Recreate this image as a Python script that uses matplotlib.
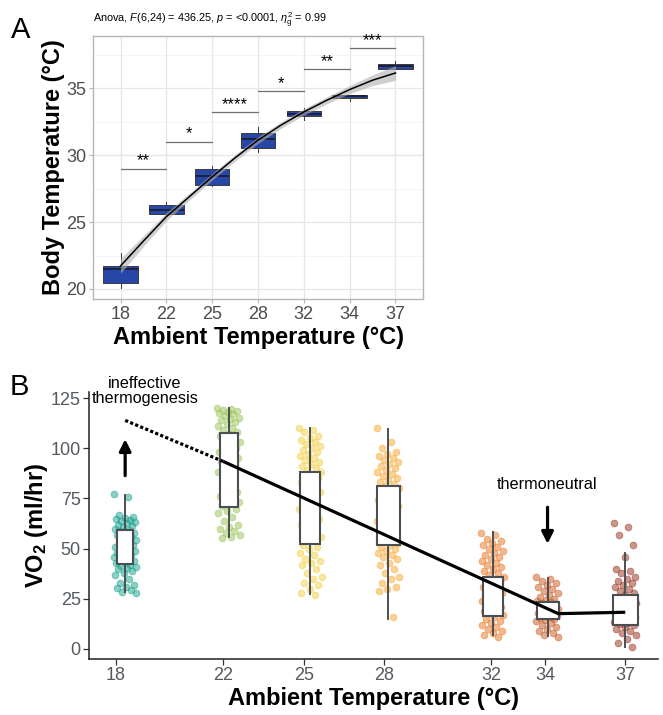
import matplotlib
matplotlib.use('Agg')
import matplotlib.pyplot as plt
import numpy as np

plt.rcParams['font.family'] = ['Liberation Sans', 'DejaVu Sans']
plt.rcParams['mathtext.fontset'] = 'custom'
plt.rcParams['mathtext.rm'] = 'Liberation Sans'
plt.rcParams['mathtext.it'] = 'Liberation Sans:italic'
plt.rcParams['mathtext.bf'] = 'Liberation Sans:bold'

# ---- panel A data: body temperature per ambient temperature ----
temps_a = ['18', '22', '25', '28', '32', '34', '37']
a_q1 = [20.45, 25.57, 27.76, 30.50, 32.89, 34.28, 36.40]
a_med = [21.47, 25.87, 28.46, 31.19, 33.11, 34.40, 36.64]
a_q3 = [21.74, 26.29, 29.00, 31.69, 33.31, 34.53, 36.84]
a_lo = [20.07, 25.50, 27.70, 30.20, 32.66, 34.03, 36.40]
a_hi = [22.70, 26.47, 29.18, 32.07, 33.50, 34.53, 37.00]

# loess fit read at integer and half category positions
smooth_pos = [1, 1.5, 2, 2.5, 3, 3.5, 4, 4.5, 5, 5.5, 6, 6.5, 7]
smooth_y = [21.72, 23.58, 25.40, 26.89, 28.38, 29.80, 31.12, 32.24, 33.23, 34.10, 34.90, 35.60, 36.14]
smooth_se = [0.55, 0.40, 0.30, 0.26, 0.24, 0.24, 0.24, 0.24, 0.24, 0.26, 0.30, 0.40, 0.55]

sig_labels = ['**', '*', '****', '*', '**', '***']
sig_y = [29.0, 31.0, 33.2, 34.8, 36.4, 38.0]

# ---- panel B data: VO2 per ambient temperature ----
temps_b = [18, 22, 25, 28, 32, 34, 37]
box_pos = [18.34, 22.2, 25.25, 28.15, 32.05, 34.1, 37.0]
box_w = [0.62, 0.67, 0.75, 0.86, 0.75, 0.82, 0.92]
b_q1 = [42.5, 70.8, 52.2, 52.0, 16.3, 15.0, 11.7]
b_med = [50.8, 94.2, 73.3, 69.2, 27.0, 20.0, 15.5]
b_q3 = [59.5, 107.5, 88.3, 81.3, 35.8, 23.3, 26.7]
b_lo = [28.3, 55.8, 27.2, 15.0, 6.7, 6.3, 0.8]
b_hi = [76.6, 120.0, 110.0, 109.5, 58.3, 35.5, 47.8]

vo2_18 = [77, 75.5, 67, 66, 65.5, 65, 64.5, 64, 63.5, 63, 62, 61.5, 61, 60, 59.5, 59, 58, 57.5,
          57, 56, 55, 54.5, 54, 53, 52, 51.5, 51, 50.5, 50, 49, 48.5, 48, 47, 46.5, 46, 45,
          44.5, 44, 43.5, 43, 42, 41.5, 41, 40.5, 40, 39, 38, 37, 35, 33, 32, 31, 30.5,
          29.5, 28.5, 28]
vo2_22 = [120, 119.5, 119, 118.5, 118, 117.5, 117, 116, 115, 114.5, 114, 113, 112, 111, 110,
          109, 108, 107, 106, 105, 104, 103, 102, 101, 100, 99, 98, 97, 96, 95, 94, 93, 92,
          90, 88, 84, 80, 78, 77, 76, 75, 74, 73, 72, 71, 70, 69, 68, 66, 64, 62, 61, 60,
          59, 58, 57, 56, 55.5]
vo2_25 = [110, 109, 108, 106, 105, 104, 103, 102, 101, 100, 99, 98, 97, 96, 95, 94, 93, 92,
          91, 90, 89, 88, 87, 86, 85, 84, 83, 82, 80, 78, 76, 74, 73, 72, 70, 68, 66, 65, 63,
          62, 60, 58, 56, 54, 52, 51, 50, 48, 47, 45, 44, 43, 42, 40, 38, 36, 35, 33, 32, 30,
          28, 27]
vo2_28 = [110, 103, 100, 98, 97, 96, 95, 94, 93, 92, 91, 90, 89, 88, 87, 86, 85, 84, 83, 82,
          81, 80, 79, 77, 76, 75, 74, 73, 72, 71, 70, 69, 68, 66, 64, 62, 60, 58, 57, 56, 55,
          54, 53, 52, 51, 50, 49, 48, 47, 46, 45, 43, 42, 40, 38, 36, 35, 33, 31, 30, 29, 16]
vo2_32 = [58, 57, 55, 54, 53, 52, 51, 50, 49, 48, 47, 46, 45, 44, 43, 42, 41, 40, 39, 38, 37,
          36, 35, 34, 33, 32, 31, 30, 29, 28, 27.5, 27, 26, 25, 24, 23, 22, 21, 20, 19, 18.5,
          18, 17, 16, 15, 14, 13, 12, 11, 10, 9, 8, 7, 6]
vo2_34 = [36, 35, 34, 33, 32, 31, 30, 29, 28, 27, 26, 25, 24.5, 24, 23.5, 23, 22.5, 22, 21.5,
          21, 20.5, 20, 20, 19.5, 19, 18.5, 18, 17.5, 17, 16.5, 16, 15.5, 15, 14.5, 14, 13, 12,
          11, 10, 9, 8, 7, 6]
vo2_37 = [63, 61, 57, 52, 46, 40, 39, 38, 36, 35, 34, 33, 32, 31, 30, 29, 28, 27, 26, 25, 24,
          23, 22, 21, 20, 19, 18, 17, 16.5, 16, 15.5, 15, 14.5, 14, 13.5, 13, 12.5, 12, 11, 10,
          9, 8, 7, 5, 3, 1]
vo2_groups = [vo2_18, vo2_22, vo2_25, vo2_28, vo2_32, vo2_34, vo2_37]
group_colors = ['#14a08a', '#97c354', '#f1cf3c', '#f9a72f', '#e9741f', '#c9571f', '#952f1a']

# fitted segments drawn over panel B
fit_x = [22.0, 34.5, 37.0]
fit_y = [93.5, 17.5, 18.2]
extrap_x = [18.34, 22.0]
extrap_y = [114.0, 93.5]

fig = plt.figure(figsize=(6.63, 7.15), dpi=100)

# ================= panel A =================
axa = fig.add_axes([0.1403, 0.5818, 0.4977, 0.3678])
pos_a = np.arange(1, len(temps_a) + 1)
stats_a = [dict(q1=q1, med=m, q3=q3, whislo=lo, whishi=hi, fliers=[])
           for q1, m, q3, lo, hi in zip(a_q1, a_med, a_q3, a_lo, a_hi)]
axa.set_xlim(0.4, 7.6)
axa.set_ylim(19.25, 38.9)
axa.grid(True, which='major', color='#e6e6e6', lw=0.9)
axa.grid(True, which='minor', axis='y', color='#f0f0f0', lw=0.5)
axa.set_axisbelow(True)
axa.bxp(stats_a, positions=pos_a, widths=0.75, patch_artist=True, showfliers=False,
        showcaps=False, manage_ticks=False,
        boxprops=dict(facecolor='#2747a8', edgecolor='#3a3a3a', lw=0.7),
        medianprops=dict(color='#1a1a2a', lw=1.2),
        whiskerprops=dict(color='#3a3a3a', lw=0.7))
axa.set_yticks([20, 25, 30, 35])
axa.set_yticks([22.5, 27.5, 32.5, 37.5], minor=True)
axa.set_xticks(pos_a)
axa.set_xticklabels(temps_a)
sy = np.array(smooth_y)
se = np.array(smooth_se)
axa.fill_between(smooth_pos, sy - se, sy + se, color='#b0b0b0', alpha=0.6, lw=0, zorder=3)
axa.plot(smooth_pos, smooth_y, color='black', lw=1.1, zorder=4)
for i, (lab, yv) in enumerate(zip(sig_labels, sig_y)):
    axa.plot([pos_a[i], pos_a[i + 1]], [yv, yv], color='#6e6e6e', lw=0.9, zorder=4)
    axa.text((pos_a[i] + pos_a[i + 1]) / 2, yv + 0.02, lab, ha='center', va='bottom',
             fontsize=12, zorder=5)
for sp in axa.spines.values():
    sp.set_color('#b5b5b5')
    sp.set_linewidth(1.0)
axa.tick_params(axis='both', which='major', colors='#b5b5b5', length=3, pad=2,
                labelsize=13, labelcolor='#4d4d4d')
axa.tick_params(which='minor', length=0)
axa.set_xlabel('Ambient Temperature (°C)', fontsize=17, fontweight='bold', labelpad=2)
axa.set_ylabel('Body Temperature (°C)', fontsize=17, fontweight='bold', labelpad=1)
axa.text(0.0, 1.022, r'Anova, $F$(6,24) = 436.25, $p$ = <0.0001, $\eta^2_{\mathrm{g}}$ = 0.99',
         transform=axa.transAxes, ha='left', va='bottom', fontsize=7.8)
fig.text(0.016, 0.978, 'A', fontsize=21, va='top', ha='left')

# ================= panel B =================
axb = fig.add_axes([0.1342, 0.0783, 0.8582, 0.3734])
axb.set_xlim(16.99, 38.22)
axb.set_ylim(-5.15, 128.15)
for k, vals in enumerate(vo2_groups):
    n = len(vals)
    jit = ((np.arange(n) * 0.618034) % 1.0 - 0.5) * 0.85
    axb.scatter(box_pos[k] + jit, vals, s=24, color=group_colors[k], alpha=0.5,
                edgecolors=group_colors[k], linewidths=0.6, zorder=2)
stats_b = [dict(q1=q1, med=m, q3=q3, whislo=lo, whishi=hi, fliers=[])
           for q1, m, q3, lo, hi in zip(b_q1, b_med, b_q3, b_lo, b_hi)]
axb.bxp(stats_b, positions=box_pos, widths=box_w, patch_artist=True, showfliers=False,
        showcaps=False, manage_ticks=False,
        boxprops=dict(facecolor='white', edgecolor='#4a4f55', lw=1.5),
        medianprops=dict(color='#4a4f55', lw=1.9),
        whiskerprops=dict(color='#4a4f55', lw=1.4))
for art in axb.patches:
    art.set_zorder(3)
axb.plot(fit_x, fit_y, color='black', lw=2.3, zorder=5, solid_capstyle='butt')
axb.plot(extrap_x, extrap_y, color='black', lw=2.3, ls=(0, (1, 0.7)), zorder=5)
axb.annotate('', xy=(box_pos[0], 106), xytext=(box_pos[0], 85),
             arrowprops=dict(arrowstyle='-|>,head_width=0.35,head_length=0.7',
                             color='black', lw=2.3))
axb.annotate('', xy=(box_pos[5], 51), xytext=(box_pos[5], 72),
             arrowprops=dict(arrowstyle='-|>,head_width=0.35,head_length=0.7',
                             color='black', lw=2.3))
axb.text(19.08, 128.6, 'ineffective\nthermogenesis', ha='center', va='center', fontsize=11.7,
         linespacing=1.0, clip_on=False, zorder=6)
axb.text(box_pos[5], 82, 'thermoneutral', ha='center', va='center', fontsize=11.7)
axb.set_xticks(temps_b)
axb.set_xticklabels([str(t) for t in temps_b])
axb.set_yticks([0, 25, 50, 75, 100, 125])
for side in ['top', 'right']:
    axb.spines[side].set_visible(False)
for side in ['left', 'bottom']:
    axb.spines[side].set_color('#222222')
    axb.spines[side].set_linewidth(1.1)
axb.tick_params(axis='both', colors='#333333', length=4, width=0.9, pad=2, labelsize=13,
                labelcolor='#555a60')
axb.set_xlabel('Ambient Temperature (°C)', fontsize=17, fontweight='bold', labelpad=2)
axb.set_ylabel(r'VO$_\mathbf{2}$ (ml/hr)', fontsize=17, fontweight='bold', labelpad=0)
fig.text(0.014, 0.478, 'B', fontsize=21, va='top', ha='left')

fig.savefig('out.png', dpi=100)
